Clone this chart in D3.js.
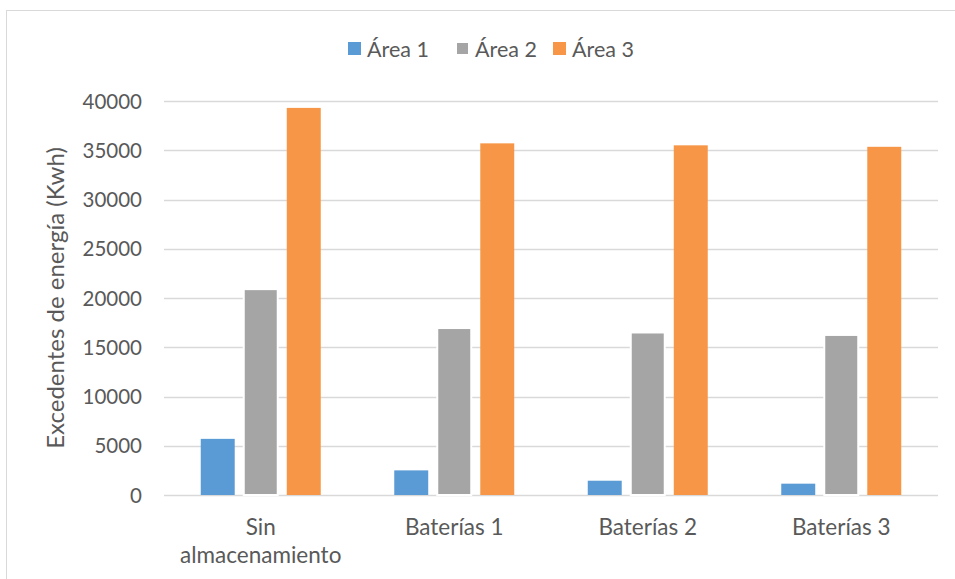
<!DOCTYPE html>
<html>
<head>
<meta charset="utf-8">
<script src="https://cdn.jsdelivr.net/npm/d3@7"></script>
<style>
  html, body { margin: 0; padding: 0; background: #fff; }
  svg { display: block; }
  text { font-family: Lato, "Open Sans", sans-serif; fill: #595959; }
</style>
</head>
<body>
<svg id="chart" width="955" height="579"></svg>
<script>
// Energy surplus per area for each storage scenario
const categories = [["Sin", "almacenamiento"], ["Baterías 1"], ["Baterías 2"], ["Baterías 3"]];
const categoryKeys = ["Sin almacenamiento", "Baterías 1", "Baterías 2", "Baterías 3"];
const seriesNames = ["Área 1", "Área 2", "Área 3"];
const area1 = [5700, 2500, 1450, 1150];
const area2 = [20900, 16950, 16500, 16250];
const area3 = [39300, 35700, 35500, 35350];
const yTicks = [0, 5000, 10000, 15000, 20000, 25000, 30000, 35000, 40000];
const yTitle = "Excedentes de energía (Kwh)";
const colors = ["#5B9BD5", "#A5A5A5", "#F79646"];

const seriesValues = [area1, area2, area3];

const svg = d3.select("#chart");
const W = 955, H = 579;

// outer frame
svg.append("rect")
  .attr("x", 6.5).attr("y", 10.5)
  .attr("width", W + 10).attr("height", H + 10)
  .attr("fill", "none").attr("stroke", "#D9D9D9").attr("stroke-width", 1);

const plot = { left: 164, right: 938, top: 101, bottom: 495 };

const y = d3.scaleLinear().domain([0, 40000]).range([plot.bottom, plot.top]);
const x0 = d3.scaleBand().domain(categoryKeys).range([plot.left, plot.right]);
const groupWidth = 120;
const x1 = d3.scaleBand().domain(seriesNames)
  .range([(x0.bandwidth() - groupWidth) / 2, (x0.bandwidth() + groupWidth) / 2])
  .paddingInner(0.21);

// gridlines
svg.append("g")
  .selectAll("line")
  .data(yTicks)
  .join("line")
  .attr("x1", plot.left).attr("x2", plot.right)
  .attr("y1", d => Math.round(y(d)) + 0.5).attr("y2", d => Math.round(y(d)) + 0.5)
  .attr("stroke", "#D9D9D9").attr("stroke-width", 1.3);

// y axis labels
const yAxis = d3.axisLeft(y).tickValues(yTicks).tickSize(0).tickPadding(0).tickFormat(d3.format("d"));
const yg = svg.append("g").attr("transform", `translate(${plot.left - 22},0)`).call(yAxis);
yg.select(".domain").remove();
yg.selectAll("text")
  .attr("font-size", 20.5)
  .attr("font-family", "Lato, 'Open Sans', sans-serif")
  .attr("fill", "#595959")
  .attr("dy", "0.35em");

// bars
const groups = svg.append("g")
  .selectAll("g")
  .data(categoryKeys)
  .join("g")
  .attr("transform", d => `translate(${x0(d)},0)`);

groups.selectAll("rect")
  .data((d, i) => seriesNames.map((s, j) => ({ s, j, v: seriesValues[j][i] })))
  .join("rect")
  .attr("x", d => x1(d.s))
  .attr("width", x1.bandwidth())
  .attr("y", d => y(d.v))
  .attr("height", d => y(0) - y(d.v))
  .attr("fill", d => colors[d.j])
  .attr("stroke", d => d.j === 1 ? "#fff" : "none")
  .attr("stroke-width", 2);

// category labels
const catG = svg.append("g");
categoryKeys.forEach((k, i) => {
  const t = catG.append("text")
    .attr("x", x0(k) + x0.bandwidth() / 2)
    .attr("y", 535)
    .attr("text-anchor", "middle")
    .attr("font-size", 22.5);
  categories[i].forEach((line, li) => {
    t.append("tspan")
      .attr("x", x0(k) + x0.bandwidth() / 2)
      .attr("dy", li === 0 ? 0 : 28)
      .text(line);
  });
});

// y axis title
svg.append("text")
  .attr("transform", `translate(64,${(plot.top + plot.bottom) / 2}) rotate(-90)`)
  .attr("text-anchor", "middle")
  .attr("font-size", 24)
  .text(yTitle);

// legend
const legendItems = [
  { name: seriesNames[0], x: 348 },
  { name: seriesNames[1], x: 456 },
  { name: seriesNames[2], x: 553 }
];
const lg = svg.append("g");
legendItems.forEach((it, i) => {
  lg.append("rect")
    .attr("x", it.x).attr("y", 42)
    .attr("width", 13).attr("height", 13)
    .attr("fill", colors[i])
    .attr("stroke", i === 1 ? "#fff" : "none")
    .attr("stroke-width", 2);
  lg.append("text")
    .attr("x", it.x + 19).attr("y", 57)
    .attr("font-size", 21.5)
    .text(it.name);
});
</script>
</body>
</html>
